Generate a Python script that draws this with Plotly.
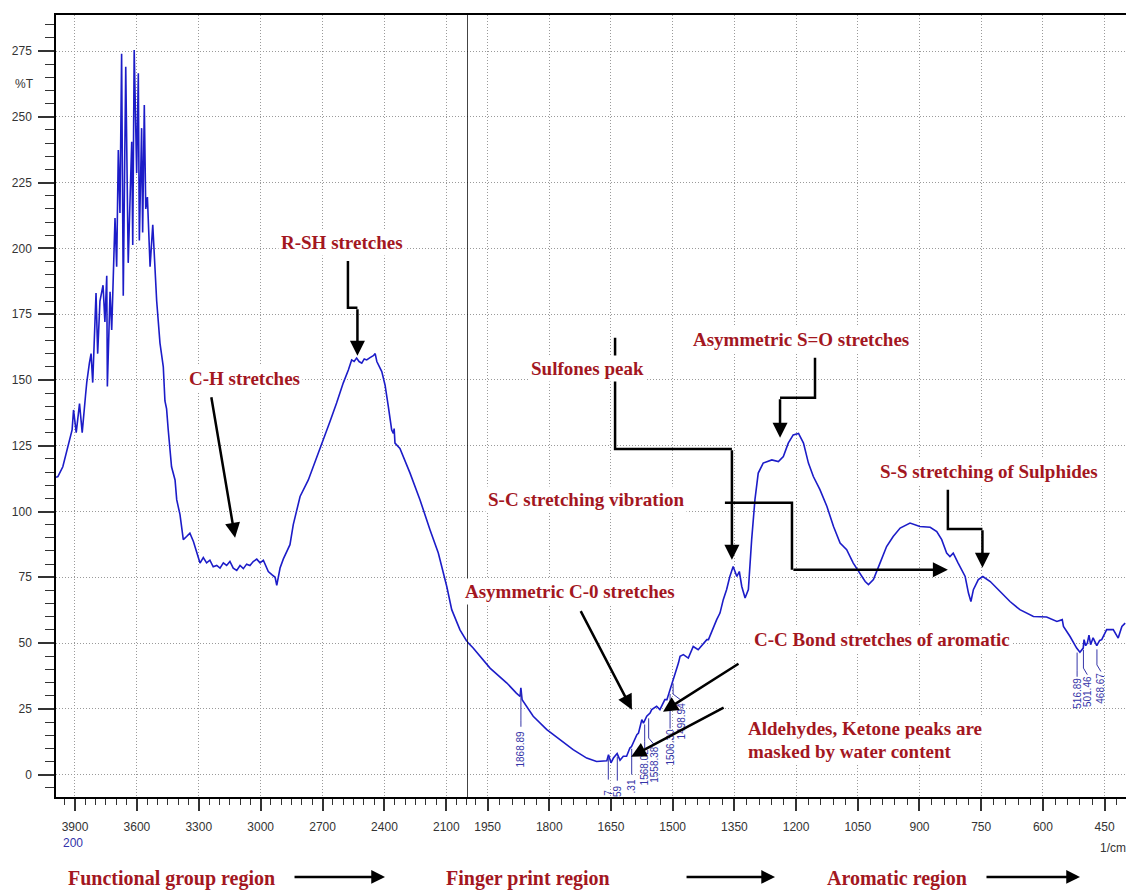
import numpy as np
import plotly.graph_objects as go

# ---- FTIR spectrum: wavenumber (1/cm) and transmittance (%T) ----
wavenumber = [
    3992, 3983, 3959, 3935, 3914, 3907, 3894, 3878, 3865, 3849, 3843, 3830, 3822, 3814,
    3798, 3790, 3779, 3764, 3755, 3746, 3743, 3730, 3722, 3706, 3698, 3690, 3682, 3674,
    3666, 3654, 3642, 3625, 3620, 3613, 3601, 3593, 3588, 3577, 3572, 3564, 3557, 3549,
    3536, 3523, 3512, 3504, 3488, 3472, 3464, 3456, 3448, 3440, 3432, 3415, 3407, 3391,
    3383, 3375, 3359, 3343, 3326, 3310, 3294, 3278, 3262, 3246, 3230, 3213, 3197, 3181,
    3165, 3149, 3133, 3116, 3100, 3084, 3068, 3052, 3036, 3019, 3003, 2987, 2971, 2963,
    2946, 2930, 2922, 2914, 2906, 2890, 2874, 2858, 2842, 2825, 2809, 2769, 2728, 2704,
    2664, 2632, 2600, 2575, 2559, 2547, 2535, 2523, 2510, 2498, 2486, 2470, 2454, 2445,
    2437, 2413, 2397, 2381, 2365, 2357, 2353, 2349, 2325, 2276, 2228, 2179, 2139, 2098,
    2074, 2034, 2000,
    1985, 1944, 1903, 1880, 1871, 1869, 1866, 1839, 1806, 1774, 1742, 1709, 1685, 1660,
    1656, 1650, 1644, 1635, 1628, 1620, 1612, 1604, 1600, 1587, 1583, 1575, 1571, 1563,
    1555, 1551, 1539, 1531, 1519, 1514, 1506, 1498, 1486, 1482, 1474, 1462, 1450, 1438,
    1425, 1417, 1413, 1401, 1393, 1385, 1377, 1369, 1361, 1353, 1344, 1338, 1332, 1324,
    1316, 1308, 1300, 1292, 1280, 1259, 1243, 1231, 1219, 1207, 1194, 1182, 1170, 1158,
    1142, 1125, 1109, 1093, 1077, 1061, 1045, 1032, 1024, 1012, 996, 980, 964, 947,
    923, 899, 874, 858, 846, 834, 826, 818, 806, 789, 781, 775, 769, 757, 746, 728,
    704, 680, 656, 623, 591, 566, 553, 550, 534, 518, 510, 502, 500, 496, 492, 488,
    484, 478, 469, 462, 457, 445, 429, 417, 408, 400,
]
transmittance = [
    113.0, 113.3, 117.0, 124.0, 131.0, 138.6, 130.0, 141.0, 130.0, 144.0, 149.0, 156.5, 160.0, 149.0,
    183.0, 160.0, 180.0, 186.0, 172.0, 189.6, 147.5, 183.5, 169.0, 211.5, 193.0, 237.4, 213.5, 274.0,
    182.0, 269.0, 194.5, 240.5, 201.3, 275.4, 228.6, 266.6, 203.0, 245.7, 206.0, 254.5, 215.0, 219.5,
    193.0, 209.0, 193.0, 180.0, 164.0, 155.0, 142.0, 139.0, 131.0, 124.7, 117.0, 112.0, 104.5, 98.8,
    93.7, 89.3, 90.5, 91.8, 88.6, 84.8, 80.4, 82.5, 80.5, 81.5, 79.0, 79.5, 78.5, 80.5,
    79.5, 81.0, 78.5, 77.6, 79.5, 78.3, 80.0, 79.5, 81.0, 81.9, 80.5, 81.5, 79.0, 77.2,
    76.0, 75.0, 71.9, 75.0, 78.5, 82.0, 84.8, 87.4, 95.0, 100.7, 105.7, 112.0, 121.0, 126.0,
    134.2, 141.2, 148.8, 153.8, 157.6, 157.0, 158.3, 157.0, 156.4, 158.0, 157.6, 158.5, 159.2, 160.0,
    157.0, 153.2, 148.0, 139.8, 131.0, 129.7, 131.5, 126.0, 124.0, 114.6, 104.5, 93.0, 84.2, 71.5,
    62.7, 55.0, 50.6,
    48.1, 40.5, 34.8, 31.0, 29.7, 33.0, 28.5, 22.2, 17.1, 13.3, 9.5, 6.3, 5.0, 5.3,
    7.6, 4.5, 6.3, 8.0, 5.5, 7.0, 7.0, 10.1, 10.7, 15.2, 15.8, 20.9, 19.6, 22.2,
    23.4, 24.7, 26.0, 24.7, 28.5, 28.5, 32.3, 36.7, 42.4, 45.0, 45.6, 44.3, 48.7, 47.5,
    50.0, 51.3, 51.3, 56.3, 58.9, 61.4, 66.5, 70.3, 75.3, 79.1, 75.3, 77.2, 71.5, 67.1,
    70.3, 89.3, 104.5, 114.6, 118.4, 119.6, 119.0, 120.9, 126.0, 129.1, 129.7, 126.0, 118.4, 113.3,
    108.3, 101.9, 94.3, 88.0, 85.5, 80.4, 76.6, 73.4, 72.2, 74.1, 80.4, 86.7, 90.5, 93.7,
    95.6, 94.3, 94.0, 92.4, 89.3, 84.2, 82.9, 84.2, 80.4, 75.3, 69.0, 65.8, 70.3, 74.1, 75.3, 73.4,
    69.6, 65.8, 62.7, 60.1, 59.9, 58.2, 58.9, 56.3, 52.5, 48.1, 46.5, 48.1, 51.3, 49.0, 50.0, 53.0,
    49.4, 52.0, 49.0, 51.0, 51.3, 55.1, 55.1, 51.9, 56.3, 57.6,
]

# Labelled peaks: stated wavenumber, where the rotated label sits, label centre (%T)
peak_values = [1868.89, 1568.02, 1558.38, 1506.30, 1498.94, 516.89, 501.46, 468.67]
peak_label_x = [1868.89, 1568.02, 1545.0, 1506.30, 1478.0, 516.89, 492.0, 459.0]
peak_label_y = [9.9, 3.0, 3.8, 10.3, 20.5, 30.8, 31.5, 33.0]
peak_leader_end = [18.2, 10.0, 11.4, 17.5, 28.1, 37.2, 38.0, 39.2]

# Partially hidden peak labels near the band minimum
clipped_labels = ["7", "59", ".31"]
clipped_x = [1656.5, 1634.6, 1599.6]
clipped_y = [-6.8, -6.1, -4.6]
clipped_leader_end = [-1.9, -2.3, 0.0]

left_ticks_step, right_ticks_step = 300, 150
x_left_range = [3992, 2000]
x_right_range = [2000, 398]
y_range = [-8.5, 288.7]
SPLIT = 0.3841

RED = "#A3171F"
BLUE_LINE = "#1c1cc8"
BLUE_TXT = "#3535a8"
GRID = "#9a9a9a"
GRID_DASH = "1px,2px"
TICK = "#333333"
SANS = "Liberation Sans, Arial, sans-serif"
SERIF = "Liberation Serif, Times New Roman, serif"

wn = np.array(wavenumber, dtype=float)
tr = np.array(transmittance, dtype=float)
left = wn >= 2000
right = wn <= 2000

fig = go.Figure()
fig.add_trace(go.Scatter(x=wn[left], y=tr[left], xaxis="x", yaxis="y", mode="lines",
                         line=dict(color=BLUE_LINE, width=1.6), hoverinfo="skip", showlegend=False))
fig.add_trace(go.Scatter(x=wn[right], y=tr[right], xaxis="x2", yaxis="y", mode="lines",
                         line=dict(color=BLUE_LINE, width=1.6), hoverinfo="skip", showlegend=False))

tickfont = dict(family=SANS, size=12, color=TICK)
common_x = dict(
    tickmode="linear", tick0=0, ticks="outside", ticklen=12, tickwidth=1.5, tickcolor=TICK,
    showline=True, linecolor="black", linewidth=1.5, mirror=True,
    showgrid=True, gridcolor=GRID, griddash=GRID_DASH, gridwidth=1, zeroline=False,
    tickfont=tickfont, ticklabelstandoff=6, anchor="y",
)
fig.update_layout(
    width=1126, height=892,
    margin=dict(l=56, r=0, t=15, b=95),
    paper_bgcolor="white", plot_bgcolor="white",
    xaxis=dict(domain=[0, SPLIT], range=x_left_range, dtick=left_ticks_step,
               minor=dict(ticks="outside", ticklen=6, tickcolor=TICK, tickwidth=1,
                          tickmode="linear", tick0=0, dtick=50, showgrid=False),
               **common_x),
    xaxis2=dict(domain=[SPLIT, 1], range=x_right_range, dtick=right_ticks_step,
                minor=dict(ticks="outside", ticklen=6, tickcolor=TICK, tickwidth=1,
                           tickmode="linear", tick0=0, dtick=30, showgrid=False),
                **common_x),
    yaxis=dict(domain=[0, 1], range=y_range, tickmode="linear", tick0=0, dtick=25,
               ticks="outside", ticklen=16, tickwidth=1.5, tickcolor=TICK,
               showline=True, linecolor="black", linewidth=1.5,
               showgrid=True, gridcolor=GRID, griddash=GRID_DASH, gridwidth=1, zeroline=False,
               tickfont=tickfont, ticklabelstandoff=4, anchor="x",
               minor=dict(ticks="outside", ticklen=9, tickcolor=TICK, tickwidth=1,
                          tickmode="linear", tick0=0, dtick=5, showgrid=False)),
)

shapes = []
annotations = []

# Boundary between the two wavenumber scales
shapes.append(dict(type="line", xref="x2", yref="paper", x0=2000, x1=2000, y0=0, y1=1,
                   line=dict(color="black", width=1.5), layer="above"))

# Peak label leader lines and labels
for v, lx, ly, le in zip(peak_values, peak_label_x, peak_label_y, peak_leader_end):
    top = float(np.interp(v, wn[::-1], tr[::-1])) - 1.5
    mid = le + 2.5
    path = f"M {v},{top} L {v},{mid} L {lx},{le}"
    shapes.append(dict(type="path", xref="x2", yref="y", path=path,
                       line=dict(color=BLUE_TXT, width=1), layer="above"))
    annotations.append(dict(x=lx, y=ly, xref="x2", yref="y", text=f"{v:.2f}", textangle=-90,
                            showarrow=False, xanchor="center", yanchor="middle",
                            font=dict(family=SANS, size=10, color=BLUE_TXT)))
for t, cx, cy, le in zip(clipped_labels, clipped_x, clipped_y, clipped_leader_end):
    top = float(np.interp(cx, wn[::-1], tr[::-1])) - 1.0
    shapes.append(dict(type="line", xref="x2", yref="y", x0=cx, x1=cx, y0=top, y1=le,
                       line=dict(color=BLUE_TXT, width=1), layer="above"))
    annotations.append(dict(x=cx, y=cy, xref="x2", yref="y", text=t, textangle=-90,
                            showarrow=False, xanchor="center", yanchor="middle",
                            font=dict(family=SANS, size=10, color=BLUE_TXT)))

# Band assignment labels
def label(text, x, y, xref, size=19, xanchor="center"):
    return dict(x=x, y=y, xref=xref, yref="y", text=f"<b>{text}</b>", showarrow=False,
                xanchor=xanchor, yanchor="middle", bgcolor="white", borderpad=2,
                font=dict(family=SERIF, size=size, color=RED))

annotations += [
    label("R-SH stretches", 2608, 202.3, "x"),
    label("C-H stretches", 3076, 150.4, "x"),
    label("Sulfones peak", 1708, 154.2, "x2"),
    label("Asymmetric S=O stretches", 1188, 165.2, "x2"),
    label("S-S stretching of Sulphides", 731, 115.2, "x2"),
    label("S-C stretching vibration", 1711, 104.5, "x2"),
    label("Asymmetric C-0 stretches", 1750, 69.5, "x2"),
    label("C-C Bond stretches of aromatic", 991, 51.3, "x2"),
    label("Aldehydes, Ketone peaks are", 1324, 17.5, "x2", xanchor="left"),
    label("masked by water content", 1324, 8.8, "x2", xanchor="left"),
]

# Pointer arrows (elbow segments as paths, final segment with head)
def elbow(path, xref):
    return dict(type="path", xref=xref, yref="y", path=path,
                line=dict(color="black", width=2.5), layer="above")

def head(x, y, ax, ay, xref, yref="y", width=2.5, size=1.2):
    return dict(x=x, y=y, xref=xref, yref=yref, ax=ax, ay=ay, axref="pixel", ayref="pixel",
                text="", showarrow=True, arrowhead=2, arrowsize=size, arrowwidth=width,
                arrowcolor="black", standoff=0)

shapes += [
    elbow("M 2577,195.2 L 2577,177.4 L 2531,177.4", "x"),
    elbow("M 1640,166 L 1640,123.8 L 1356,123.8", "x2"),
    elbow("M 1154,158.4 L 1154,143.2 L 1239,143.2", "x2"),
    elbow("M 1373,103.3 L 1210,103.3 L 1210,77.9", "x2"),
    elbow("M 831,108.3 L 831,93.4 L 747,93.4", "x2"),
]
annotations += [
    head(3124, 90.0, -24, -142, "x"),
    head(2531, 159.2, 0, -48, "x"),
    head(1356, 81.7, 0, -111, "x2"),
    head(1239, 128.0, 0, -40, "x2"),
    head(831, 77.9, -156, 0, "x2"),
    head(747, 78.6, 0, -39, "x2"),
    head(1599, 24.7, -52, -100, "x2"),
    head(1523.5, 23.9, 77, -49, "x2"),
    head(1601, 6.8, 94, -50, "x2"),
]

# Axis captions
annotations += [
    dict(x=-0.029, y=0.912, xref="paper", yref="paper", text="%T", showarrow=False,
         xanchor="center", yanchor="middle", font=dict(family=SANS, size=12, color=TICK)),
    dict(x=0.0159, y=-0.0588, xref="paper", yref="paper", text="200", showarrow=False,
         xanchor="center", yanchor="middle", font=dict(family=SANS, size=12, color="#3333aa")),
    dict(x=0.988, y=-0.065, xref="paper", yref="paper", text="1/cm", showarrow=False,
         xanchor="center", yanchor="middle", font=dict(family=SANS, size=12, color=TICK)),
]

# Spectral region captions along the bottom
region_font = dict(family=SERIF, size=20, color=RED)
for text, cx in [("Functional group region", 0.1084), ("Finger print region", 0.441),
                 ("Aromatic region", 0.786)]:
    annotations.append(dict(x=cx, y=-0.1036, xref="paper", yref="paper", text=f"<b>{text}</b>",
                            showarrow=False, xanchor="center", yanchor="middle", font=region_font))
for tip, length in [(0.3075, -92), (0.672, -90), (0.957, -95)]:
    annotations.append(head(tip, -0.1023, length, 0, "paper", yref="paper", width=2.5, size=1.1))

fig.update_layout(shapes=shapes, annotations=annotations)
fig.write_html("out.html")
